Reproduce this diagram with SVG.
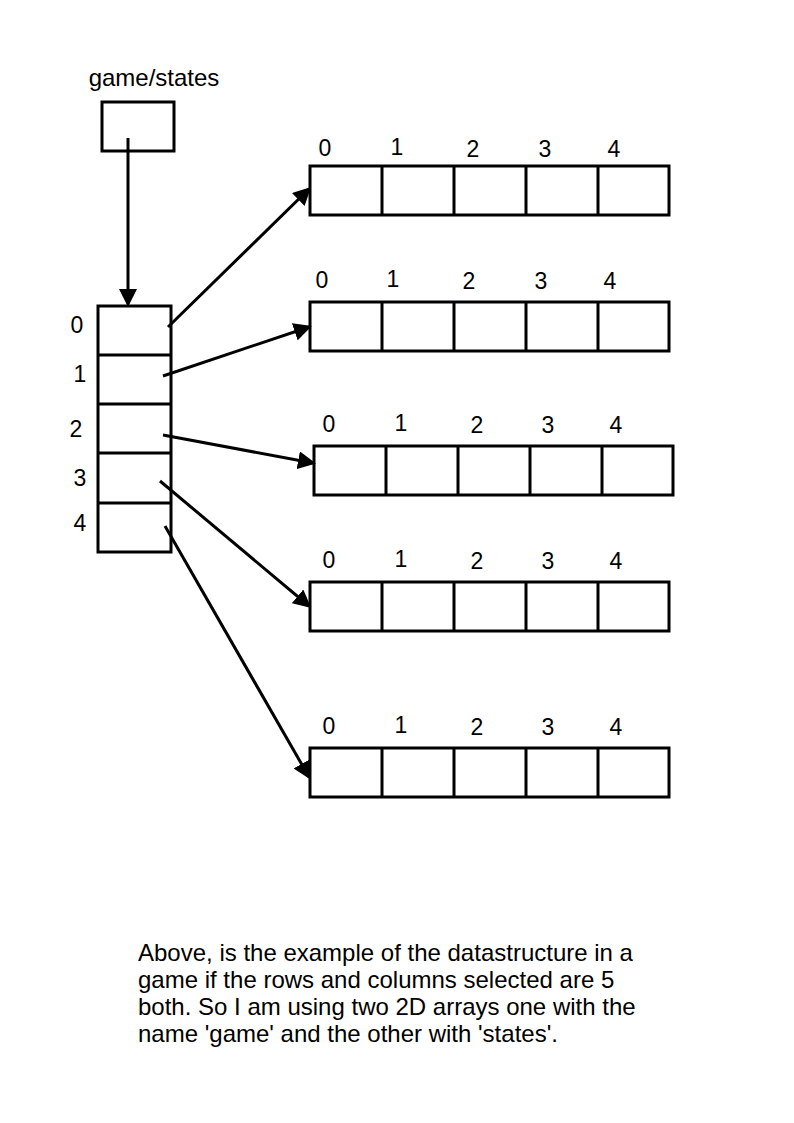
<svg xmlns="http://www.w3.org/2000/svg" width="794" height="1123" viewBox="0 0 794 1123">
<style>
.box{fill:none;stroke:#000;stroke-width:3}
.ln{stroke:#000;stroke-width:3;fill:none}
.t{font-family:"Liberation Sans",Arial,sans-serif;font-size:23px;fill:#000;text-anchor:middle}
.p{font-family:"Liberation Sans",Arial,sans-serif;font-size:24px;fill:#000}
</style>
<defs>
<marker id="ah" markerWidth="6" markerHeight="6" refX="5" refY="3" orient="auto" markerUnits="strokeWidth">
<path d="M0,0 L6,3 L0,6 Z" fill="#000"/>
</marker>
</defs>
<rect width="794" height="1123" fill="#fff"/>
<g id="gamestates">
<text class="t" x="154" y="86" style="font-size:24px">game/states</text>
<rect class="box" x="102" y="102" width="72" height="49"/>
</g>
<g id="pointer-array">
<rect class="box" x="98" y="306" width="73" height="246"/>
<path class="ln" d="M98,355H171M98,404H171M98,453H171M98,503H171"/>
<text class="t" x="77" y="333">0</text>
<text class="t" x="80" y="382">1</text>
<text class="t" x="76" y="437">2</text>
<text class="t" x="80" y="486">3</text>
<text class="t" x="80" y="531">4</text>
</g>
<g id="row0">
<rect class="box" x="310" y="166" width="359" height="49"/>
<path class="ln" d="M382,166V215M454,166V215M526,166V215M598,166V215"/>
<text class="t" x="325" y="156">0</text><text class="t" x="397" y="155">1</text><text class="t" x="473" y="157">2</text><text class="t" x="545" y="157">3</text><text class="t" x="614" y="157">4</text>
</g>
<g id="row1">
<rect class="box" x="310" y="302" width="359" height="49"/>
<path class="ln" d="M382,302V351M454,302V351M526,302V351M598,302V351"/>
<text class="t" x="322" y="288">0</text><text class="t" x="393" y="287">1</text><text class="t" x="469" y="289">2</text><text class="t" x="541" y="289">3</text><text class="t" x="610" y="289">4</text>
</g>
<g id="row2">
<rect class="box" x="314" y="446" width="359" height="49"/>
<path class="ln" d="M386,446V495M458,446V495M530,446V495M602,446V495"/>
<text class="t" x="329" y="432">0</text><text class="t" x="401" y="431">1</text><text class="t" x="477" y="433">2</text><text class="t" x="548" y="433">3</text><text class="t" x="616" y="433">4</text>
</g>
<g id="row3">
<rect class="box" x="310" y="582" width="359" height="49"/>
<path class="ln" d="M382,582V631M454,582V631M526,582V631M598,582V631"/>
<text class="t" x="329" y="568">0</text><text class="t" x="401" y="567">1</text><text class="t" x="477" y="569">2</text><text class="t" x="548" y="569">3</text><text class="t" x="616" y="569">4</text>
</g>
<g id="row4">
<rect class="box" x="310" y="748" width="359" height="49"/>
<path class="ln" d="M382,748V797M454,748V797M526,748V797M598,748V797"/>
<text class="t" x="329" y="734">0</text><text class="t" x="401" y="733">1</text><text class="t" x="477" y="735">2</text><text class="t" x="548" y="735">3</text><text class="t" x="616" y="735">4</text>
</g>
<g id="connectors">
<line class="ln" x1="128" y1="138" x2="128" y2="304" marker-end="url(#ah)"/>
<line class="ln" x1="168" y1="327" x2="309" y2="189" marker-end="url(#ah)"/>
<line class="ln" x1="163" y1="376" x2="309" y2="327" marker-end="url(#ah)"/>
<line class="ln" x1="163" y1="435" x2="313" y2="463" marker-end="url(#ah)"/>
<line class="ln" x1="160" y1="481" x2="309" y2="606" marker-end="url(#ah)"/>
<line class="ln" x1="165" y1="526" x2="309" y2="777" marker-end="url(#ah)"/>
</g>
<g id="caption">
<text class="p" x="138" y="961">Above, is the example of the datastructure in a</text>
<text class="p" x="138" y="988">game if the rows and columns selected are 5</text>
<text class="p" x="138" y="1015">both. So I am using two 2D arrays one with the</text>
<text class="p" x="138" y="1042">name 'game' and the other with 'states'.</text>
</g>
</svg>
